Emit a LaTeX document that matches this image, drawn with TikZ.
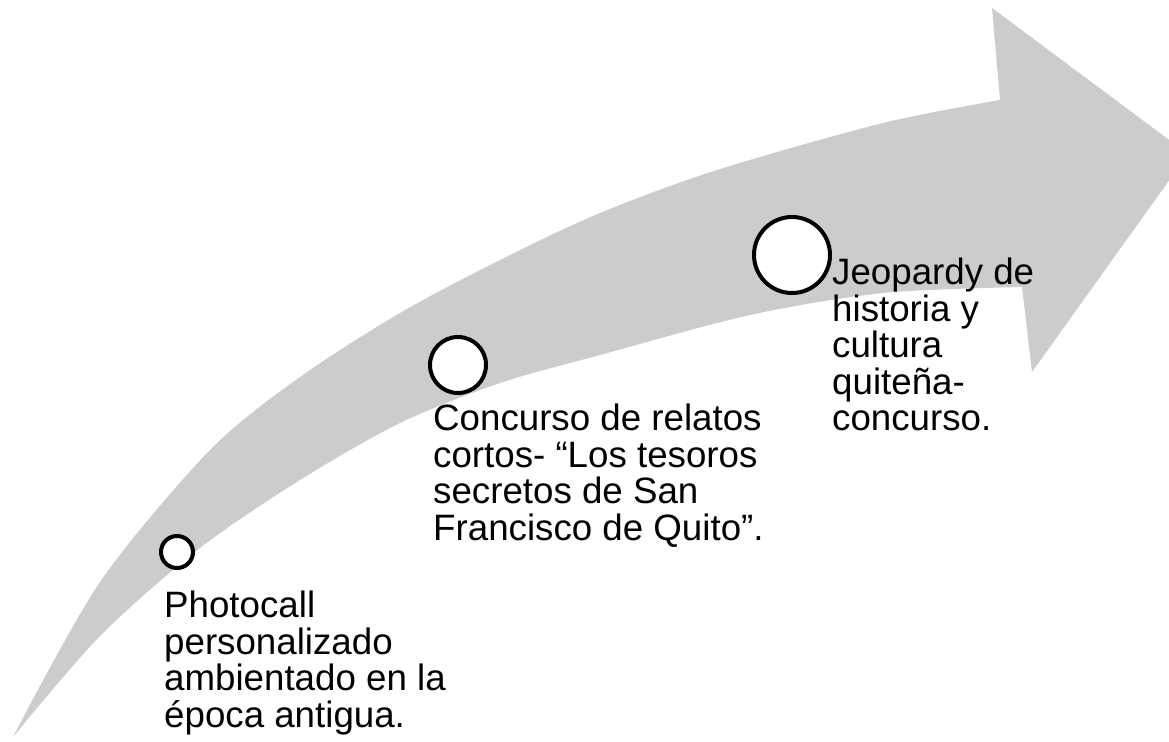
\documentclass[tikz,border=0pt]{standalone}
\usepackage{fontspec}
\setmainfont{Liberation Sans}
\usepackage{tikz}

\definecolor{arrowgray}{RGB}{204,204,204}

\begin{document}
\begin{tikzpicture}[
		x=1pt, y=-1pt
		,dot/.style={circle, draw, line width=4pt, fill=white, inner sep=0pt}
		,txt/.style={anchor=north west, inner sep=0pt, align=left, font=\fontsize{36.7}{36.5}\selectfont}
	]
		\useasboundingbox (0,0) rectangle (1169,741);
		\clip (0,0) rectangle (1169,741);
		% rising arrow
		\fill [arrowgray] plot [smooth] coordinates {(13,737) (100,582) (210,450) (300,377) (400,313) (500,260) (600,213) (717,170) (883,123) (1000,100)}
			-- (992,8) -- (1188,154) -- (1032,372) -- (1022,287)
			-- plot [smooth] coordinates {(1022,287) (883,293) (750,315) (600,355) (500,383) (400,423) (300,480) (200,548) (100,636) (13,737)}
			-- cycle;
		% steps
		\node [dot, minimum size=32pt] (A) at (177,552) {};
		\node [dot, minimum size=56pt] (B) at (458,365) {};
		\node [dot, minimum size=76pt] (C) at (792,255) {};
		\node [txt] (tA) at (164,591) {Photocall\\personalizado\\ambientado en la\\época antigua.};
		\node [txt] (tB) at (433,404) {Concurso de relatos\\cortos- “Los tesoros\\secretos de San\\Francisco de Quito”.};
		\node [txt] (tC) at (832,258) {Jeopardy de\\historia y\\cultura\\quiteña-\\concurso.};
	\end{tikzpicture}
\end{document}
